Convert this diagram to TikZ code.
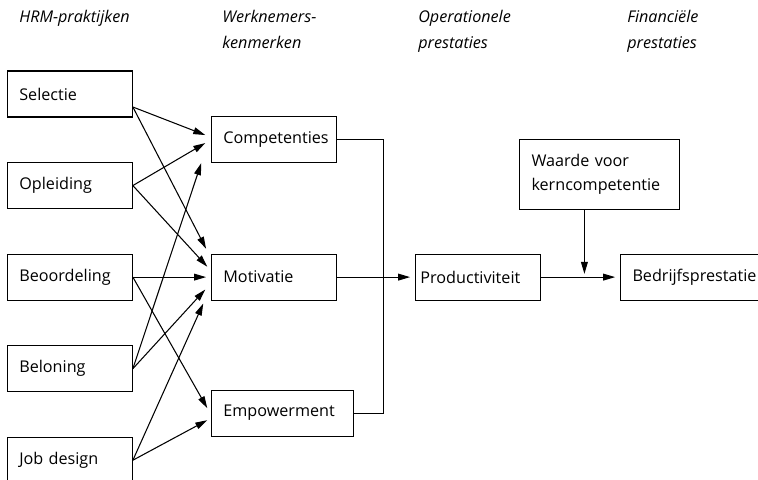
\documentclass[tikz,border=0pt]{standalone}
\usepackage{fontspec}
\setmainfont{Open Sans}
\usetikzlibrary{arrows.meta, positioning, calc}

\begin{document}
\begin{tikzpicture}[
    stage/.style={
      rectangle, draw, line width=0.75pt, minimum height=1.15cm,
      text width=2.525cm, inner xsep=0.3cm, inner ysep=0pt, align=left,
      font=\fontsize{11.5}{17}\selectfont
    },
    heading/.style={anchor=north west, inner sep=0pt, align=left,
      font=\fontsize{11.5}{18.5}\selectfont\itshape},
    arr/.style={-{Triangle[length=3mm, width=1.7mm]}, line width=0.75pt},
    gap/.style={shorten >=1.2mm}
  ]
  \useasboundingbox (0,0) rectangle (18.95,-12);

  % headings
  \node[heading] (h1) at (0.475,-0.24) {HRM-praktijken};
  \node[heading] (h2) at (5.55,-0.24) {Werknemers-\\kenmerken};
  \node[heading] (h3) at (10.45,-0.24) {Operationele\\prestaties};
  \node[heading] (h4) at (15.675,-0.24) {Financiële\\prestaties};

  % HRM practices
  \node[stage] (sel) at (1.746,-2.35) {Selectie};
  \node[stage, below=1.1125cm of sel] (opl) {Opleiding};
  \node[stage, below=1.1125cm of opl] (beo) {Beoordeling};
  \node[stage, below=1.1125cm of beo] (bel) {Beloning};
  \node[stage, below=1.1125cm of bel] (job) {Job design};

  % employee characteristics
  \node[stage, right=1.95cm of beo] (motiv) {Motivatie};
  \node[stage, above=2.275cm of motiv] (comp) {Competenties};
  \node[stage, text width=2.96cm, below=2.225cm of motiv.south west, anchor=north west] (empow) {Empowerment};

  % performance
  \node[stage, inner xsep=0.125cm, text width=2.875cm, right=1.95cm of motiv] (prod) {Productiviteit};
  \node[stage, text width=2.9cm, right=1.975cm of prod] (bedr) {Bedrijfsprestatie};
  \node[stage, text width=3.4cm, minimum height=1.75cm, anchor=south west] (waarde)
    at ([xshift=-0.55cm, yshift=1.1cm]prod.north east) {Waarde voor\\kerncompetentie};

  % practices -> characteristics
  \coordinate (selout) at ([yshift=-3.25mm]sel.east);
  \draw[arr] (selout) -- ([shift={(-1.4mm,1mm)}]comp.west);
  \draw[arr] (selout) -- ([shift={(-1.2mm,7.1mm)}]motiv.west);
  \draw[arr] (opl.east) -- ([shift={(-1.4mm,-1mm)}]comp.west);
  \draw[arr] (opl.east) -- ([shift={(-0.9mm,2.6mm)}]motiv.west);
  \draw[arr, gap] (beo.east) -- (motiv.west);
  \draw[arr] (beo.east) -- ([shift={(-0.9mm,1.25mm)}]empow.west);
  \draw[arr] (bel.east) -- ([shift={(-2.4mm,-6mm)}]comp.west);
  \draw[arr] (bel.east) -- ([shift={(-1.4mm,-3.1mm)}]motiv.west);
  \draw[arr] (job.east) -- ([shift={(-1.9mm,-6.6mm)}]motiv.west);
  \draw[arr] (job.east) -- ([shift={(-0.9mm,-1.75mm)}]empow.west);

  % characteristics -> performance
  \coordinate (bus) at ([xshift=1.175cm]motiv.east);
  \draw[line width=0.75pt] (comp.east) -| (bus |- empow.east) -- (empow.east);
  \draw[arr, gap] (motiv.east) -- (prod.west);
  \draw[arr, gap] (prod.east) -- (bedr.west);
  \coordinate (join) at ($(prod.east)!0.55!(bedr.west)$);
  \draw[arr, shorten >=0.8mm] (waarde.south -| join) -- (join);
\end{tikzpicture}
\end{document}
